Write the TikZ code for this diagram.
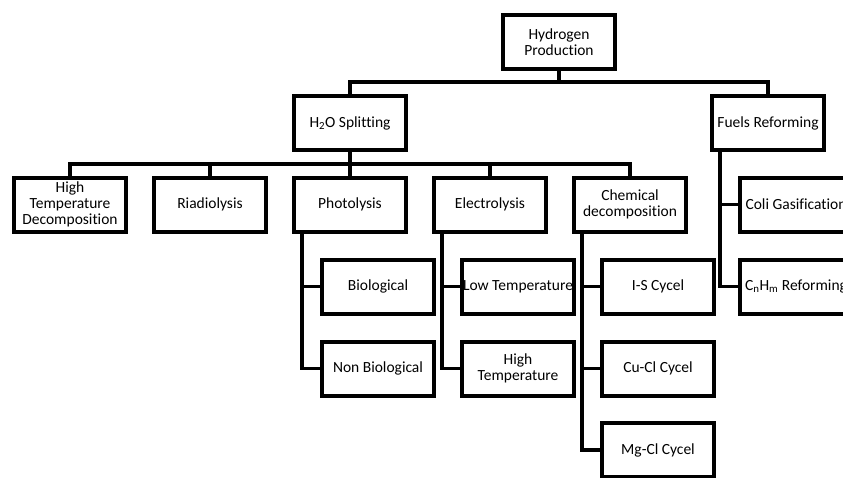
\documentclass[tikz,border=0pt]{standalone}
\usepackage{fontspec}
\setmainfont{Carlito}[Ligatures=NoCommon]
\tikzset{treebox/.style={draw, line width=4pt, minimum width=112.5pt, minimum height=54pt, inner sep=0.5pt, align=center, font=\fontsize{15.5}{16.3}\selectfont}}
\newcommand{\treenode}[3] {\node at (#1) (#2) [treebox] {#3};}
\newcommand{\treedrop}[1] {\draw (#1.north) -- (#1.north |- bar2);}
\newcommand{\treebranch}[2] {\draw ([xshift=10.5pt]#1.south west) |- (#2.west);}

\begin{document}
\begin{tikzpicture}[x=1pt, y=-1pt, line width=3.8pt]
\useasboundingbox (0,0) rectangle (843,477);
\clip (0,0) rectangle (843,477);

\treenode {559,42}{root}{Hydrogen\\Production};
\treenode {350,123}{h2o}{H\textsubscript{2}O Splitting};
\treenode {768,123}{fuels}{Fuels Reforming};

\treenode {70,204.5}{htd}{High\\Temperature\\Decomposition};
\treenode {210,204.5}{riad}{Riadiolysis};
\treenode {350,204.5}{photo}{Photolysis};
\treenode {490,204.5}{elec}{Electrolysis};
\treenode {630,204.5}{chem}{Chemical\\decomposition};

\treenode {378,286.5}{bio}{Biological};
\treenode {378,368.5}{nonbio}{Non Biological};
\treenode {518,286.5}{lowt}{Low Temperature};
\treenode {518,368.5}{hight}{High\\Temperature};
\treenode {658,286.5}{iscyc}{I-S Cycel};
\treenode {658,368.5}{cucyc}{Cu-Cl Cycel};
\treenode {658,450}{mgcyc}{Mg-Cl Cycel};
\treenode {796,204.5}{coal}{Coli Gasification};
\treenode {796,286.5}{cnhm}{C\textsubscript{n}H\textsubscript{m} Reforming};

\coordinate (bar1) at (559,82);
\coordinate (bar2) at (350,164);

\draw (root.south) -- (bar1);
\draw (h2o.north) |- (bar1) -| (fuels.north);
\draw (h2o.south) -- (bar2);
\draw (htd.north) |- (bar2) -| (chem.north);
\treedrop{riad};
\treedrop{photo};
\treedrop{elec};

\treebranch{photo}{bio};
\treebranch{photo}{nonbio};
\treebranch{elec}{lowt};
\treebranch{elec}{hight};
\treebranch{chem}{iscyc};
\treebranch{chem}{cucyc};
\treebranch{chem}{mgcyc};
\treebranch{fuels}{coal};
\treebranch{fuels}{cnhm};

\end{tikzpicture}
\end{document}
